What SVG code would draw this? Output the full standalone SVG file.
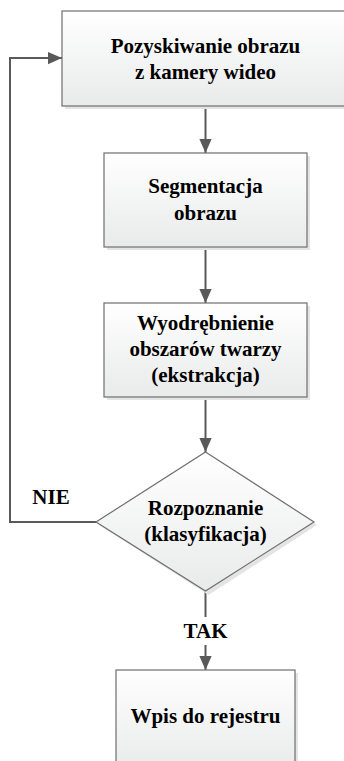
<svg xmlns="http://www.w3.org/2000/svg" width="344" height="761" viewBox="0 0 344 761">
<defs>
<linearGradient id="g" x1="0" y1="0" x2="0" y2="1">
<stop offset="0" stop-color="#ffffff"/>
<stop offset="1" stop-color="#e9eaea"/>
</linearGradient>
<marker id="a" markerWidth="14" markerHeight="16" refX="16" refY="7" orient="auto" markerUnits="userSpaceOnUse" viewBox="0 0 16 14">
<path d="M0,0 L16,7 L0,14 Z" fill="#595959"/>
</marker>
</defs>
<g id="connectors" fill="none" stroke="#595959" stroke-width="2">
<line x1="205.5" y1="106" x2="205.5" y2="153" marker-end="url(#a)"/>
<line x1="205.5" y1="247" x2="205.5" y2="303" marker-end="url(#a)"/>
<line x1="205.5" y1="397" x2="205.5" y2="452" marker-end="url(#a)"/>
<polyline points="96,522 10,522 10,58 62,58" marker-end="url(#a)"/>
<line x1="205.5" y1="591" x2="205.5" y2="617"/>
<line x1="205.5" y1="645" x2="205.5" y2="670" marker-end="url(#a)"/>
</g>
<g id="n1">
<rect x="65" y="14" width="290" height="95" fill="#e4e4e4"/>
<rect x="62" y="11" width="290" height="95" fill="url(#g)" stroke="#6e6e6e" stroke-width="1.2"/>
<text x="205.5" y="53" font-family="Liberation Serif" font-weight="bold" font-size="21" text-anchor="middle">Pozyskiwanie obrazu</text>
<text x="205.5" y="79" font-family="Liberation Serif" font-weight="bold" font-size="21" text-anchor="middle">z kamery wideo</text>
</g>
<g id="n2">
<rect x="107" y="156" width="203" height="94" fill="#e4e4e4"/>
<rect x="104" y="153" width="203" height="94" fill="url(#g)" stroke="#6e6e6e" stroke-width="1.2"/>
<text x="205.5" y="193" font-family="Liberation Serif" font-weight="bold" font-size="21" text-anchor="middle">Segmentacja</text>
<text x="205.5" y="220" font-family="Liberation Serif" font-weight="bold" font-size="21" text-anchor="middle">obrazu</text>
</g>
<g id="n3">
<rect x="107" y="306" width="203" height="94" fill="#e4e4e4"/>
<rect x="104" y="303" width="203" height="94" fill="url(#g)" stroke="#6e6e6e" stroke-width="1.2"/>
<text x="205.5" y="330" font-family="Liberation Serif" font-weight="bold" font-size="21" text-anchor="middle">Wyodrębnienie</text>
<text x="205.5" y="356" font-family="Liberation Serif" font-weight="bold" font-size="21" text-anchor="middle">obszarów twarzy</text>
<text x="205.5" y="382" font-family="Liberation Serif" font-weight="bold" font-size="21" text-anchor="middle">(ekstrakcja)</text>
</g>
<g id="n4">
<polygon points="208.5,455 317,525 208.5,595 99,525" fill="#e4e4e4"/>
<polygon points="205.5,452 314,522 205.5,591 96,522" fill="url(#g)" stroke="#6e6e6e" stroke-width="1.2"/>
<text x="205.5" y="515" font-family="Liberation Serif" font-weight="bold" font-size="21" text-anchor="middle">Rozpoznanie</text>
<text x="205.5" y="541" font-family="Liberation Serif" font-weight="bold" font-size="21" text-anchor="middle">(klasyfikacja)</text>
</g>
<g id="n5">
<rect x="119" y="673" width="179" height="100" fill="#e4e4e4"/>
<rect x="116" y="670" width="179" height="100" fill="url(#g)" stroke="#6e6e6e" stroke-width="1.2"/>
<text x="205.5" y="723" font-family="Liberation Serif" font-weight="bold" font-size="21" text-anchor="middle">Wpis do rejestru</text>
</g>
<g id="labels">
<text x="51" y="504" font-family="Liberation Serif" font-weight="bold" font-size="21" text-anchor="middle">NIE</text>
<text x="205.5" y="638" font-family="Liberation Serif" font-weight="bold" font-size="21" text-anchor="middle">TAK</text>
</g>
</svg>
